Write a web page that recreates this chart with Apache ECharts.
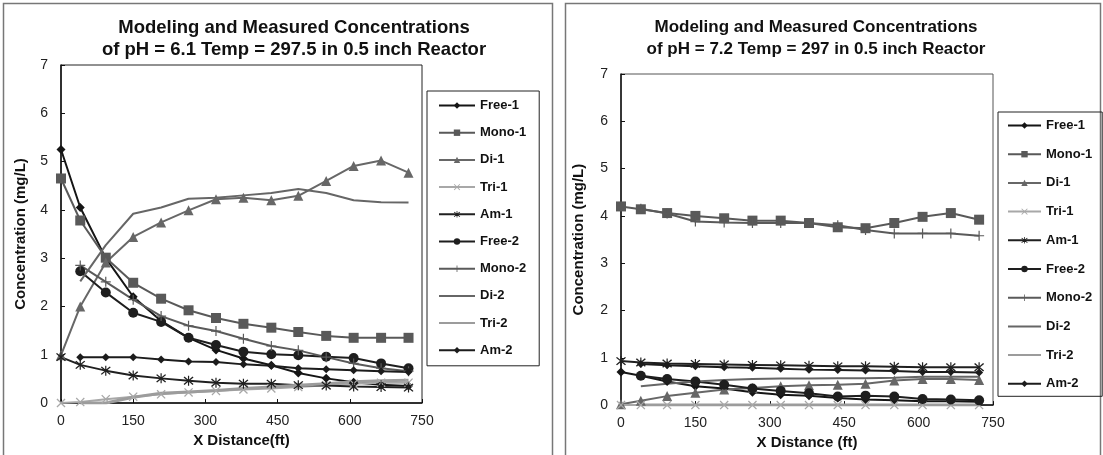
<!DOCTYPE html>
<html>
<head>
<meta charset="utf-8">
<script src="https://cdn.jsdelivr.net/npm/echarts@6/dist/echarts.min.js"></script>
<style>
  html, body { margin: 0; padding: 0; background: #fff; }
  #chart { width: 1103px; height: 455px; }
</style>
</head>
<body>
<div id="chart"></div>
<script>
// distances along the reactor (ft)
const distance = [0, 40, 93, 150, 208, 265, 322, 379, 437, 493, 551, 608, 665, 722];
const seriesNames = ['Free-1', 'Mono-1', 'Di-1', 'Tri-1', 'Am-1', 'Free-2', 'Mono-2', 'Di-2', 'Tri-2', 'Am-2'];
const xTicks = [0, 150, 300, 450, 600, 750];

// pH 6.1, Temp 297.5
const left_free1 = [5.25, 4.05, 3.0, 2.2, 1.7, 1.35, 1.1, 0.92, 0.78, 0.62, 0.51, 0.43, 0.38, 0.35];
const left_mono1 = [4.65, 3.78, 3.01, 2.49, 2.16, 1.92, 1.76, 1.64, 1.56, 1.47, 1.39, 1.35, 1.35, 1.35];
const left_di1 = [0.99, 2.0, 2.91, 3.44, 3.74, 3.99, 4.22, 4.25, 4.2, 4.29, 4.6, 4.91, 5.02, 4.77];
const left_tri1 = [0, 0.02, 0.08, 0.13, 0.18, 0.22, 0.25, 0.28, 0.3, 0.33, 0.37, 0.4, 0.42, 0.42];
const left_am1 = [0.95, 0.79, 0.67, 0.57, 0.51, 0.46, 0.42, 0.4, 0.4, 0.37, 0.36, 0.34, 0.33, 0.32];
const left_free2 = [null, 2.73, 2.29, 1.87, 1.68, 1.35, 1.2, 1.06, 1.01, 0.99, 0.96, 0.93, 0.82, 0.72];
const left_mono2 = [null, 2.85, 2.51, 2.14, 1.8, 1.6, 1.49, 1.33, 1.18, 1.09, 0.95, 0.82, 0.72, 0.66];
const left_di2 = [null, 2.52, 3.27, 3.92, 4.05, 4.23, 4.25, 4.3, 4.35, 4.43, 4.35, 4.2, 4.16, 4.15];
const left_tri2 = [null, 0, 0, 0.12, 0.2, 0.23, 0.26, 0.3, 0.33, 0.37, 0.4, 0.44, 0.46, 0.47];
const left_am2 = [null, 0.95, 0.95, 0.95, 0.9, 0.86, 0.85, 0.8, 0.77, 0.72, 0.7, 0.68, 0.66, 0.64];

// pH 7.2, Temp 297
const right_free1 = [0.7, 0.62, 0.5, 0.4, 0.35, 0.27, 0.22, 0.2, 0.15, 0.12, 0.1, 0.08, 0.08, 0.07];
const right_mono1 = [4.2, 4.14, 4.06, 4.0, 3.95, 3.9, 3.9, 3.85, 3.76, 3.74, 3.85, 3.98, 4.06, 3.92];
const right_di1 = [0.02, 0.09, 0.19, 0.26, 0.33, 0.36, 0.4, 0.42, 0.43, 0.45, 0.52, 0.55, 0.55, 0.53];
const right_tri1 = [0, 0, 0, 0, 0, 0, 0, 0, 0, 0, 0, 0, 0, 0];
const right_am1 = [0.93, 0.9, 0.88, 0.87, 0.86, 0.85, 0.84, 0.83, 0.82, 0.82, 0.81, 0.8, 0.8, 0.8];
const right_free2 = [null, 0.62, 0.55, 0.5, 0.43, 0.35, 0.3, 0.25, 0.18, 0.2, 0.18, 0.13, 0.12, 0.1];
const right_mono2 = [null, 4.15, 4.05, 3.88, 3.86, 3.85, 3.85, 3.85, 3.8, 3.7, 3.63, 3.63, 3.63, 3.58];
const right_di2 = [null, 0.4, 0.45, 0.5, 0.53, 0.55, 0.56, 0.56, 0.57, 0.57, 0.58, 0.6, 0.6, 0.6];
const right_tri2 = [null, 0, 0, 0, 0, 0, 0, 0, 0, 0, 0, 0, 0, 0];
const right_am2 = [null, 0.87, 0.84, 0.82, 0.8, 0.79, 0.77, 0.75, 0.74, 0.73, 0.72, 0.7, 0.7, 0.69];

const leftValues = [left_free1, left_mono1, left_di1, left_tri1, left_am1, left_free2, left_mono2, left_di2, left_tri2, left_am2];
const rightValues = [right_free1, right_mono1, right_di1, right_tri1, right_am1, right_free2, right_mono2, right_di2, right_tri2, right_am2];

const FONT = '"Liberation Sans", Arial, sans-serif';
const X_MARK = 'path://M1,0 L5,4 L9,0 L10,1 L6,5 L10,9 L9,10 L5,6 L1,10 L0,9 L4,5 L0,1 Z';
const STAR_MARK = 'path://M1,0 L5,4 L9,0 L10,1 L6,5 L10,9 L9,10 L5,6 L1,10 L0,9 L4,5 L0,1 Z M4.4,-1 L5.6,-1 L5.6,11 L4.4,11 Z';
const PLUS_MARK = 'path://M4.4,0 L5.6,0 L5.6,4.4 L10,4.4 L10,5.6 L5.6,5.6 L5.6,10 L4.4,10 L4.4,5.6 L0,5.6 L0,4.4 L4.4,4.4 Z';

// look of each series: colour, marker, marker size, line width
const looks = [
  { color: '#151515', symbol: 'diamond', size: 9, width: 2 },
  { color: '#595959', symbol: 'rect', size: 10, width: 2 },
  { color: '#676767', symbol: 'triangle', size: 10, width: 2 },
  { color: '#a8a8a8', symbol: X_MARK, size: 9, width: 2 },
  { color: '#202020', symbol: STAR_MARK, size: 10, width: 2 },
  { color: '#1e1e1e', symbol: 'circle', size: 10, width: 2 },
  { color: '#5a5a5a', symbol: PLUS_MARK, size: 10, width: 2 },
  { color: '#666666', symbol: 'none', size: 0, width: 2 },
  { color: '#9c9c9c', symbol: 'none', size: 0, width: 3 },
  { color: '#1c1c1c', symbol: 'diamond', size: 8, width: 2 }
];

function buildSeries(values, gridIdx) {
  return values.map((vals, i) => ({
    name: seriesNames[i],
    type: 'line',
    xAxisIndex: gridIdx,
    yAxisIndex: gridIdx,
    data: distance.map((d, k) => (vals[k] == null ? null : [d, vals[k]])).filter(p => p),
    symbol: looks[i].symbol,
    symbolSize: looks[i].size,
    showSymbol: looks[i].symbol !== 'none',
    lineStyle: { color: looks[i].color, width: looks[i].width },
    itemStyle: { color: looks[i].color },
    emphasis: { disabled: true },
    animation: false
  }));
}

function xAxis(gridIdx, name, nameGap) {
  return {
    type: 'value', gridIndex: gridIdx, min: 0, max: 750, interval: 150,
    name: name, nameLocation: 'middle', nameGap: nameGap,
    nameTextStyle: { fontFamily: FONT, fontSize: 15, fontWeight: 'bold', color: '#111' },
    axisLine: { show: true, lineStyle: { color: '#111', width: 1.5 } },
    axisTick: { show: true, inside: true, length: 4, lineStyle: { color: '#111' } },
    axisLabel: { fontFamily: FONT, fontSize: 14, color: '#222', margin: 11,
      formatter: v => (xTicks.indexOf(v) >= 0 ? String(v) : '') },
    splitLine: { show: false }
  };
}

function yAxis(gridIdx, nameGap) {
  return {
    type: 'value', gridIndex: gridIdx, min: 0, max: 7, interval: 1,
    name: 'Concentration (mg/L)', nameLocation: 'middle', nameGap: nameGap,
    nameTextStyle: { fontFamily: FONT, fontSize: 15, fontWeight: 'bold', color: '#111' },
    axisLine: { show: true, lineStyle: { color: '#111', width: 1.5 } },
    axisTick: { show: true, inside: true, length: 4, lineStyle: { color: '#111' } },
    axisLabel: { fontFamily: FONT, fontSize: 14, color: '#222', margin: 13 },
    splitLine: { show: false }
  };
}

// legend entries: the model lines without markers get no marker in the key either
function legendData() {
  return seriesNames.map((n, i) => (looks[i].symbol === 'none'
    ? { name: n, itemStyle: { opacity: 0 } }
    : { name: n }));
}

function legend(left, top, padding, gap, iconW) {
  return {
    data: legendData(), orient: 'vertical', left: left, top: top,
    padding: padding, itemGap: gap, itemWidth: iconW, itemHeight: 8,
    borderColor: '#222', borderWidth: 1, selectedMode: false,
    textStyle: { fontFamily: FONT, fontSize: 13, fontWeight: 'bold', color: '#111' }
  };
}

const chart = echarts.init(document.getElementById('chart'), null, { renderer: 'canvas' });

const option = {
  backgroundColor: '#fff',
  animation: false,
  title: [
    { text: 'Modeling and Measured Concentrations\nof pH = 6.1 Temp = 297.5 in 0.5 inch Reactor',
      left: 289, top: 12, textAlign: 'center',
      textStyle: { fontFamily: FONT, fontSize: 18.5, fontWeight: 'bold', color: '#111', lineHeight: 22 } },
    { text: 'Modeling and Measured Concentrations\nof pH = 7.2 Temp = 297 in 0.5 inch Reactor',
      left: 811, top: 11, textAlign: 'center',
      textStyle: { fontFamily: FONT, fontSize: 17, fontWeight: 'bold', color: '#111', lineHeight: 22 } }
  ],
  graphic: [
    { type: 'rect', shape: { x: 3.5, y: 3.5, width: 549, height: 470 },
      style: { fill: 'none', stroke: '#777', lineWidth: 1.5 }, silent: true },
    { type: 'rect', shape: { x: 565.5, y: 3.5, width: 535, height: 470 },
      style: { fill: 'none', stroke: '#777', lineWidth: 1.5 }, silent: true }
  ],
  legend: [
    legend(427, 91, [8, 13, 9, 11], 14.2, 36),
    legend(998, 112, [7, 10, 6, 9], 15.7, 33)
  ],
  grid: [
    { left: 61, top: 65, width: 361, height: 338, show: true, borderColor: '#222', borderWidth: 1 },
    { left: 621, top: 74, width: 372, height: 333, show: true, borderColor: '#555', borderWidth: 1 }
  ],
  xAxis: [xAxis(0, 'X Distance(ft)', 26), xAxis(1, 'X Distance (ft)', 23)],
  yAxis: [yAxis(0, 33), yAxis(1, 35)],
  series: buildSeries(leftValues, 0).concat(buildSeries(rightValues, 1))
};

chart.setOption(option);
</script>
</body>
</html>
